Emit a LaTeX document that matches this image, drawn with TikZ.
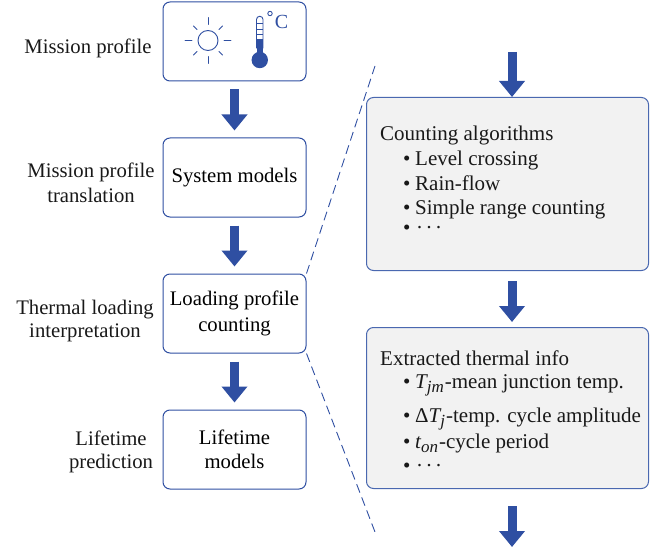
\documentclass[tikz,border=0pt]{standalone}
\usepackage{fontspec}
\setmainfont{Liberation Serif}
\usetikzlibrary{arrows.meta,calc}
\definecolor{bl}{HTML}{2F4FA2}
\definecolor{bord}{HTML}{4A68B0}
\definecolor{gr}{HTML}{F2F2F2}
\newcommand{\itm}{\makebox[12pt][l]{•}}
\newcommand{\vars}[2]{{\itshape #1}\raisebox{-4pt}{\fontsize{17}{17}\selectfont\itshape #2}\hspace{1pt}}
\newcommand{\ddd}{\hspace{1pt}·\hspace{2.5pt}·\hspace{2.5pt}·}
\tikzset{
 wbox/.style={draw=bl,line width=1pt,rounded corners=7pt,fill=white,align=center,font=\fontsize{20.7}{24.5}\selectfont,inner sep=0pt,minimum width=143pt,minimum height=79pt},
 gbox/.style={draw=bord,line width=1pt,rounded corners=7pt,fill=gr,anchor=north west,inner sep=0pt,minimum width=282pt},
 lab/.style={align=center,font=\fontsize{20.7}{24.5}\selectfont,inner sep=0pt,text=black!90},
 rlab/.style={anchor=base west,font=\fontsize{21}{25}\selectfont,inner sep=0pt,text=black!90},
 fat/.style={draw=bl,line width=9pt,-{Triangle[length=16pt,width=25pt,fill=bl,color=bl]}},
 dashline/.style={draw=bl,line width=0.9pt,dash pattern=on 9pt off 5pt},
 ico/.style={draw=bl,line width=0.9pt,line cap=round},
}
\begin{document}
\begin{tikzpicture}[x=1pt,y=-1pt]
\useasboundingbox (0,0) rectangle (663,548);
% left column
\node[wbox] (a) at (234.5,41.5) {};
\node[wbox] (b) at (234.5,177.5) {\raisebox{1pt}{System models}};
\node[wbox] (c) at (234.5,313.5) {Loading profile\\[1.5pt]counting};
\node[wbox] (d) at (234.5,449.5) {Lifetime\\models};
\draw[fat,shorten <=8pt,shorten >=7pt] (a) -- (b);
\draw[fat,shorten <=8pt,shorten >=7pt] (b) -- (c);
\draw[fat,shorten <=8pt,shorten >=7pt] (c) -- (d);
% labels
\node[lab] (l1) at (88,48) {Mission profile};
\node[lab] (l2) at (91,183) {Mission profile\\translation};
\node[lab] (l3) at (85,321) {Thermal loading\\[-1.5pt]interpretation};
\node[lab] (l4) at (111,452) {Lifetime\\[-1pt]prediction};
% sun
\draw[ico] (208,40.5) circle (10);
\foreach \a in {0,90,180,270}{\draw[ico] ($(208,40.5)+(\a:16)$) -- ($(208,40.5)+(\a:23)$);}
\foreach \a in {45,135,225,315}{\draw[ico] ($(208,40.5)+(\a:15.5)$) -- ($(208,40.5)+(\a:20.5)$);}
% thermometer
\draw[ico,fill=white] (256.5,48) -- (256.5,19.5) arc[start angle=180,end angle=360,radius=3.25] -- (263,48) -- cycle;
\fill[bl] (256.5,39) rectangle (263,55);
\fill[bl] (259.75,60) circle (8.2);
\draw[bl,line width=0.8pt] (256.5,23)--(263,23) (256.5,29)--(263,29) (256.5,34)--(263,34);
\draw[bl,line width=0.9pt] (270,13.5) circle (2.2);
\node[text=bl,font=\fontsize{20}{20}\selectfont,inner sep=0pt] (cel) at (281.5,21.5) {C};
% right column
\node[gbox,minimum height=173pt] (r1) at (366,97) {};
\node[gbox,minimum height=161pt] (r2) at (366,327) {};
\coordinate (t1) at (512,52);
\coordinate (t2) at (512,547);
\draw[fat] (t1) -- (r1.north -| t1);
\draw[fat,shorten <=10pt,shorten >=5pt] (r1.south -| t1) -- (r2.north -| t1);
\draw[fat,shorten <=17pt] (r2.south -| t2) -- (t2);
% dashed
\coordinate (e1) at (375,66);
\coordinate (e2) at (375,532);
\draw[dashline] (c.north east) -- (e1);
\draw[dashline] (c.south east) -- (e2);
% right text
\node[rlab] (x1) at (380,141) {Counting algorithms};
\node[rlab] (x2) at (403,165) {\itm Level crossing};
\node[rlab] (x3) at (403,190) {\itm Rain-flow};
\node[rlab] (x4) at (403,214) {\itm Simple range counting};
\node[rlab] (x5) at (403,234) {\itm\ddd};
\node[rlab] (y1) at (380,365) {Extracted thermal info};
\node[rlab] (y2) at (403,388) {\itm\vars{T}{jm}-mean junction temp.};
\node[rlab] (y3) at (403,422) {\itm Δ\vars{T}{j}-temp. cycle amplitude};
\node[rlab] (y4) at (403,448) {\itm\vars{t}{on}-cycle period};
\node[rlab] (y5) at (403,472) {\itm\ddd};
\end{tikzpicture}
\end{document}
